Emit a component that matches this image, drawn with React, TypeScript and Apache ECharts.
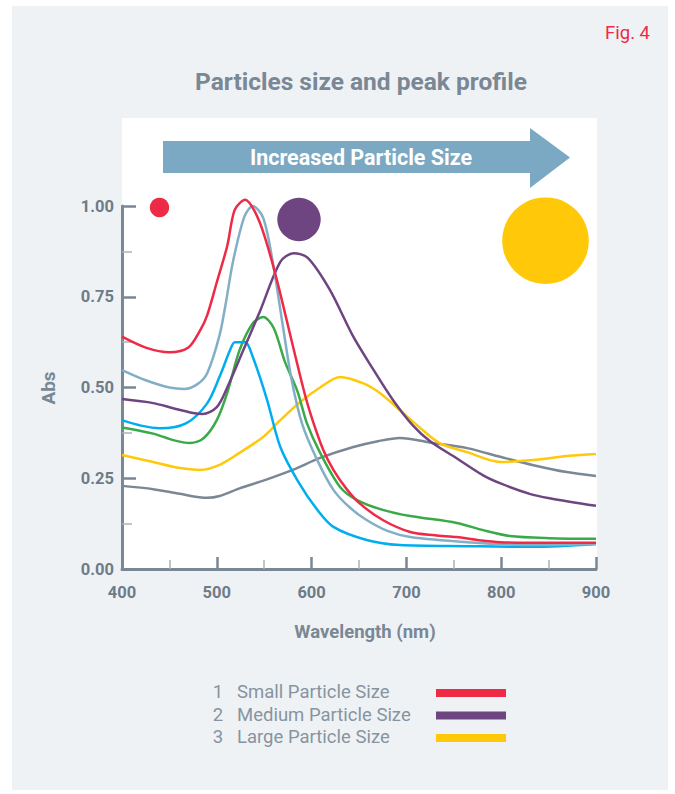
import React, { useEffect, useRef } from "react";
import * as echarts from "echarts";

// ---- data (wavelength nm, absorbance) ----
const redSmall: [number, number][] = [
  [400, 0.64], [425, 0.61], [450, 0.597], [470, 0.61], [483, 0.66], [490, 0.70], [500, 0.79],
  [511, 0.89], [519, 0.99], [530, 1.017], [540, 0.985], [550, 0.92], [563, 0.80], [580, 0.617],
  [593, 0.48], [601, 0.41], [612, 0.33], [623, 0.273], [637, 0.22], [651, 0.18], [675, 0.135],
  [704, 0.102], [730, 0.093], [753, 0.088], [775, 0.08], [799, 0.074], [852, 0.072], [900, 0.072],
];
const steelBlue: [number, number][] = [
  [400, 0.548], [425, 0.52], [450, 0.50], [466, 0.496], [480, 0.51], [490, 0.54], [503, 0.645],
  [510, 0.74], [517, 0.846], [529, 0.97], [538, 1.0], [549, 0.967], [559, 0.846], [570, 0.664],
  [579, 0.52], [590, 0.40], [606, 0.30], [623, 0.218], [640, 0.17], [658, 0.135], [680, 0.105],
  [704, 0.088], [764, 0.074], [834, 0.066], [900, 0.069],
];
const purpleMedium: [number, number][] = [
  [400, 0.468], [433, 0.457], [454, 0.443], [475, 0.43], [485, 0.427], [500, 0.446], [511, 0.50],
  [528, 0.603], [546, 0.713], [567, 0.846], [581, 0.87], [596, 0.857], [619, 0.77], [644, 0.64],
  [665, 0.55], [686, 0.465], [707, 0.395], [725, 0.352], [753, 0.305], [781, 0.258], [800, 0.235],
  [830, 0.207], [851, 0.195], [900, 0.174],
];
const green: [number, number][] = [
  [400, 0.39], [433, 0.373], [454, 0.355], [472, 0.347], [486, 0.36], [500, 0.41], [511, 0.485],
  [524, 0.603], [538, 0.677], [549, 0.694], [560, 0.664], [572, 0.57], [585, 0.49], [595, 0.402],
  [609, 0.32], [630, 0.226], [648, 0.19], [675, 0.163], [704, 0.146], [753, 0.127], [781, 0.107],
  [809, 0.091], [851, 0.085], [900, 0.083],
];
const cyan: [number, number][] = [
  [400, 0.41], [420, 0.395], [440, 0.388], [468, 0.402], [490, 0.457], [503, 0.53], [514, 0.603],
  [519, 0.625], [530, 0.625], [538, 0.584], [553, 0.466], [567, 0.336], [586, 0.24], [606, 0.163],
  [623, 0.116], [658, 0.08], [693, 0.066], [764, 0.063], [834, 0.061], [900, 0.069],
];
const yellowLarge: [number, number][] = [
  [400, 0.314], [433, 0.295], [461, 0.278], [482, 0.273], [503, 0.287], [524, 0.32], [549, 0.364],
  [567, 0.41], [588, 0.46], [609, 0.50], [630, 0.529], [654, 0.512], [672, 0.485], [693, 0.438],
  [714, 0.39], [735, 0.347], [764, 0.322], [799, 0.295], [834, 0.30], [869, 0.311], [900, 0.317],
];
const gray: [number, number][] = [
  [400, 0.229], [433, 0.22], [461, 0.207], [490, 0.196], [503, 0.201], [524, 0.222], [553, 0.247],
  [580, 0.273], [609, 0.306], [644, 0.336], [670, 0.352], [693, 0.361], [728, 0.347], [764, 0.333],
  [799, 0.309], [834, 0.286], [869, 0.267], [900, 0.256],
];

const legendNumbers = ["1", "2", "3"];
const legendLabels = ["Small Particle Size", "Medium Particle Size", "Large Particle Size"];
const legendColors = ["#ee2a47", "#6e4580", "#ffc90a"];

const TEXT = "#7a8794";
const FONT = "Roboto";

export default function App() {
  const ref = useRef<HTMLDivElement>(null);
  useEffect(() => {
    if (!ref.current) return;
    const chart = echarts.init(ref.current, undefined, { renderer: "svg" });
    const mk = (name: string, data: [number, number][], color: string) => ({
      type: "line",
      name,
      data,
      smooth: 0.3,
      showSymbol: false,
      clip: false,
      lineStyle: { color, width: 2.5 },
      z: 3,
    });
    const legendGraphics: any[] = [];
    legendLabels.forEach((lab, i) => {
      const cy = 692 + i * 22.5;
      legendGraphics.push({
        type: "text", x: 218, y: cy,
        style: { text: legendNumbers[i], fill: "#8794a0", font: `400 18.5px ${FONT}`, align: "center", verticalAlign: "middle" },
      });
      legendGraphics.push({
        type: "text", x: 237, y: cy,
        style: { text: lab, fill: "#8794a0", font: `400 18.5px ${FONT}`, align: "left", verticalAlign: "middle" },
      });
      legendGraphics.push({
        type: "rect", shape: { x: 436, y: cy - 3, width: 70, height: 8 }, style: { fill: legendColors[i] },
      });
    });
    chart.setOption({
      animation: false,
      backgroundColor: "#ffffff",
      grid: { left: 122, right: 79, top: 206, bottom: 225 },
      xAxis: {
        type: "value", min: 400, max: 900, interval: 100,
        axisLine: { show: true, lineStyle: { color: TEXT, width: 3 } },
        axisTick: { show: true, inside: true, length: 12, lineStyle: { color: TEXT, width: 2.5 } },
        minorTick: { show: true, splitNumber: 2, length: 9, lineStyle: { color: "#a9b3bd", width: 1.5 } },
        splitLine: { show: false },
        axisLabel: { color: "#6e7b88", fontFamily: FONT, fontWeight: "bold", fontSize: 16.5, margin: 15 },
      },
      yAxis: {
        type: "value", min: 0, max: 1, interval: 0.25,
        axisLine: { show: true, lineStyle: { color: TEXT, width: 3 } },
        axisTick: { show: true, inside: true, length: 14, lineStyle: { color: TEXT, width: 2.5 } },
        minorTick: { show: true, splitNumber: 2, length: 10, lineStyle: { color: "#a9b3bd", width: 1.5 } },
        splitLine: { show: false },
        axisLabel: {
          color: "#6e7b88", fontFamily: FONT, fontWeight: "bold", fontSize: 16.5, margin: 8,
          formatter: (v: number) => v.toFixed(2),
        },
      },
      graphic: [
        { type: "rect", z: -10, shape: { x: 12, y: 6, width: 656, height: 784 }, style: { fill: "#eef2f5" } },
        { type: "rect", z: -9, shape: { x: 122, y: 118, width: 475, height: 451 }, style: { fill: "#ffffff" } },
        {
          type: "text", x: 650, y: 33,
          style: { text: "Fig. 4", fill: "#ee2a47", font: `400 18.5px ${FONT}`, align: "right", verticalAlign: "middle" },
        },
        {
          type: "text", x: 361, y: 81,
          style: { text: "Particles size and peak profile", fill: TEXT, font: `bold 24.5px ${FONT}`, align: "center", verticalAlign: "middle" },
        },
        {
          type: "polygon", z: 5,
          shape: { points: [[163, 141], [530, 141], [530, 128], [570, 157.5], [530, 188], [530, 173], [163, 173]] },
          style: { fill: "#7ba8c2" },
        },
        {
          type: "text", z: 6, x: 361, y: 157,
          style: { text: "Increased Particle Size", fill: "#ffffff", font: `bold 21.5px ${FONT}`, align: "center", verticalAlign: "middle" },
        },
        { type: "circle", z: 5, shape: { cx: 159.5, cy: 207.5, r: 9.7 }, style: { fill: "#ee2a47" } },
        { type: "circle", z: 5, shape: { cx: 299, cy: 219.5, r: 21.7 }, style: { fill: "#6e4580" } },
        { type: "circle", z: 5, shape: { cx: 545.5, cy: 240.7, r: 43.3 }, style: { fill: "#ffc90a" } },
        {
          type: "text", x: 48, y: 388, rotation: Math.PI / 2,
          style: { text: "Abs", fill: TEXT, font: `bold 19px ${FONT}`, align: "center", verticalAlign: "middle" },
        },
        {
          type: "text", x: 365, y: 632,
          style: { text: "Wavelength (nm)", fill: TEXT, font: `bold 18.5px ${FONT}`, align: "center", verticalAlign: "middle" },
        },
        ...legendGraphics,
      ],
      series: [
        mk("Gray", gray, "#7a8794"),
        mk("Large", yellowLarge, "#ffc90a"),
        mk("Green", green, "#3aaa49"),
        mk("Cyan", cyan, "#00aeef"),
        mk("Medium", purpleMedium, "#6e4580"),
        mk("Steel", steelBlue, "#83afc6"),
        mk("Small", redSmall, "#ee2a47"),
      ],
    });
    return () => chart.dispose();
  }, []);
  return <div ref={ref} style={{ position: "absolute", left: 0, top: 0, width: 675, height: 794 }} />;
}
